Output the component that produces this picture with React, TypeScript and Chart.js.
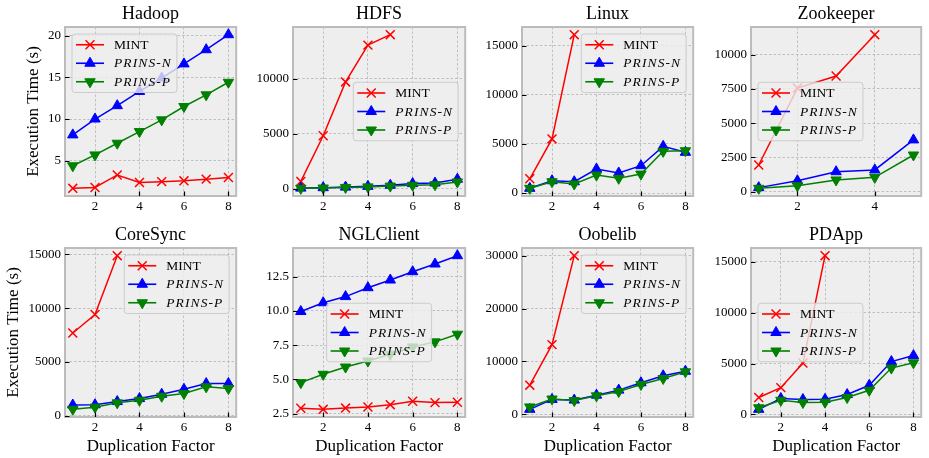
import React, { useEffect, useRef } from 'react';
import { Chart, registerables } from 'chart.js';

Chart.register(...registerables);

// ---------------- data ----------------
const DUP_FACTORS = [1, 2, 3, 4, 5, 6, 7, 8];
const SERIES_LABELS = ['MINT', 'PRINS-N', 'PRINS-P'];
const X_TICKS = [2, 4, 6, 8];
const X_TICKS_ZK = [2, 4];

const hadoopMint = [1.7, 1.8, 3.3, 2.4, 2.5, 2.6, 2.8, 3.0];
const hadoopPrinsN = [8.1, 10.0, 11.6, 13.3, 14.9, 16.6, 18.3, 20.1];
const hadoopPrinsP = [4.4, 5.7, 7.1, 8.5, 9.9, 11.5, 12.9, 14.4];
const hadoopYTicks = [5, 10, 15, 20];

const hdfsMint = [650, 4800, 9700, 13050, 14000];
const hdfsPrinsN = [40, 80, 130, 200, 300, 450, 500, 850];
const hdfsPrinsP = [20, 50, 100, 150, 220, 300, 350, 600];
const hdfsYTicks = [0, 5000, 10000];

const linuxMint = [1450, 5500, 16100];
const linuxPrinsN = [480, 1250, 1150, 2440, 2040, 2780, 4750, 4140];
const linuxPrinsP = [480, 1150, 920, 1830, 1500, 1930, 4240, 4300];
const linuxYTicks = [0, 5000, 10000, 15000];

const zookeeperMint = [1950, 7560, 8440, 11450];
const zookeeperPrinsN = [300, 800, 1460, 1590, 3780];
const zookeeperPrinsP = [250, 440, 860, 1050, 2680];
const zookeeperYTicks = [0, 2500, 5000, 7500, 10000];

const coreSyncMint = [7690, 9410, 14870];
const coreSyncPrinsN = [1000, 1020, 1320, 1600, 2000, 2460, 2990, 3000];
const coreSyncPrinsP = [600, 800, 1200, 1440, 1815, 2065, 2685, 2530];
const coreSyncYTicks = [0, 5000, 10000, 15000];

const nglClientMint = [2.89, 2.81, 2.9, 2.98, 3.15, 3.4, 3.3, 3.33];
const nglClientPrinsN = [9.96, 10.6, 11.05, 11.7, 12.26, 12.87, 13.43, 14.04];
const nglClientPrinsP = [4.76, 5.37, 5.9, 6.34, 6.83, 7.37, 7.74, 8.3];
const nglClientYTicks = [2.5, 5.0, 7.5, 10.0, 12.5];

const oobelibMint = [5520, 13180, 30000];
const oobelibPrinsN = [950, 2820, 2700, 3630, 4580, 5970, 7290, 8150];
const oobelibPrinsP = [1400, 2900, 2600, 3500, 4300, 5650, 6780, 8040];
const oobelibYTicks = [0, 10000, 20000, 30000];

const pdAppMint = [1660, 2630, 5040, 15590];
const pdAppPrinsN = [500, 1560, 1460, 1480, 1950, 2860, 5190, 5780];
const pdAppPrinsP = [650, 1390, 1170, 1200, 1660, 2370, 4550, 5070];
const pdAppYTicks = [0, 5000, 10000, 15000];

// ---------------- layout / style ----------------
const FONT = 'Liberation Serif';
const COLORS = ['#ff0000', '#0000ff', '#008000'];

type LegendLoc = 'upper left' | 'upper right' | 'center right' | 'center left' | 'center';

interface PanelDef {
  title: string;
  mint: number[];
  prinsN: number[];
  prinsP: number[];
  yTicks: number[];
  xTicks: number[];
  xCount: number;
  decimals: number;
  legend: LegendLoc;
}

const PANELS: PanelDef[] = [
  { title: 'Hadoop', mint: hadoopMint, prinsN: hadoopPrinsN, prinsP: hadoopPrinsP, yTicks: hadoopYTicks, xTicks: X_TICKS, xCount: 8, decimals: 0, legend: 'upper left' },
  { title: 'HDFS', mint: hdfsMint, prinsN: hdfsPrinsN, prinsP: hdfsPrinsP, yTicks: hdfsYTicks, xTicks: X_TICKS, xCount: 8, decimals: 0, legend: 'center right' },
  { title: 'Linux', mint: linuxMint, prinsN: linuxPrinsN, prinsP: linuxPrinsP, yTicks: linuxYTicks, xTicks: X_TICKS, xCount: 8, decimals: 0, legend: 'upper right' },
  { title: 'Zookeeper', mint: zookeeperMint, prinsN: zookeeperPrinsN, prinsP: zookeeperPrinsP, yTicks: zookeeperYTicks, xTicks: X_TICKS_ZK, xCount: 5, decimals: 0, legend: 'center left' },
  { title: 'CoreSync', mint: coreSyncMint, prinsN: coreSyncPrinsN, prinsP: coreSyncPrinsP, yTicks: coreSyncYTicks, xTicks: X_TICKS, xCount: 8, decimals: 0, legend: 'upper right' },
  { title: 'NGLClient', mint: nglClientMint, prinsN: nglClientPrinsN, prinsP: nglClientPrinsP, yTicks: nglClientYTicks, xTicks: X_TICKS, xCount: 8, decimals: 1, legend: 'center' },
  { title: 'Oobelib', mint: oobelibMint, prinsN: oobelibPrinsN, prinsP: oobelibPrinsP, yTicks: oobelibYTicks, xTicks: X_TICKS, xCount: 8, decimals: 0, legend: 'upper right' },
  { title: 'PDApp', mint: pdAppMint, prinsN: pdAppPrinsN, prinsP: pdAppPrinsP, yTicks: pdAppYTicks, xTicks: X_TICKS, xCount: 8, decimals: 0, legend: 'center left' },
];

const COLS = [
  { x: 0, w: 244, left: 65, right: 242 },
  { x: 244, w: 229, left: 293, right: 471 },
  { x: 473, w: 228, left: 522, right: 699 },
  { x: 701, w: 228, left: 751, right: 928 },
];
const ROWS = [
  { y: 0, h: 220, top: 27, bottom: 196, titlePadTop: 3 },
  { y: 220, h: 238, top: 248, bottom: 417, titlePadTop: 4.2 },
];
const YLABEL_PAD = [23.8, 3.8];

function drawMarker(ctx: CanvasRenderingContext2D, style: string, rot: number, x: number, y: number, r: number, color: string) {
  ctx.save();
  ctx.translate(x, y);
  ctx.rotate((rot * Math.PI) / 180);
  ctx.strokeStyle = color;
  ctx.fillStyle = color;
  ctx.beginPath();
  if (style === 'crossRot') {
    const d = r * Math.SQRT1_2;
    ctx.lineWidth = 1.5;
    ctx.moveTo(-d, -d);
    ctx.lineTo(d, d);
    ctx.moveTo(d, -d);
    ctx.lineTo(-d, d);
    ctx.stroke();
  } else {
    ctx.lineWidth = 1;
    ctx.moveTo(0, -r);
    ctx.lineTo(r * Math.sin((2 * Math.PI) / 3), -r * Math.cos((2 * Math.PI) / 3));
    ctx.lineTo(r * Math.sin((4 * Math.PI) / 3), -r * Math.cos((4 * Math.PI) / 3));
    ctx.closePath();
    ctx.fill();
    ctx.stroke();
  }
  ctx.restore();
}

const decorPlugin = {
  id: 'panelDecor',
  beforeDraw(chart: any) {
    const { ctx, chartArea: a } = chart;
    ctx.save();
    ctx.fillStyle = '#eeeeee';
    ctx.fillRect(a.left, a.top, a.right - a.left, a.bottom - a.top);
    ctx.restore();
  },
  afterDatasetsDraw(chart: any, _args: any, opts: any) {
    const { ctx, chartArea: a } = chart;
    ctx.save();
    // frame
    ctx.strokeStyle = '#bcbcbc';
    ctx.lineWidth = 2;
    ctx.strokeRect(a.left, a.top, a.right - a.left, a.bottom - a.top);
    // inward ticks
    ctx.strokeStyle = '#000';
    ctx.lineWidth = 1.2;
    ctx.beginPath();
    for (const t of chart.scales.x.ticks) {
      const px = Math.round(chart.scales.x.getPixelForValue(t.value)) + 0.5;
      ctx.moveTo(px, a.bottom);
      ctx.lineTo(px, a.bottom - 4.5);
    }
    for (const t of chart.scales.y.ticks) {
      const py = Math.round(chart.scales.y.getPixelForValue(t.value)) + 0.5;
      ctx.moveTo(a.left, py);
      ctx.lineTo(a.left + 4.5, py);
    }
    ctx.stroke();

    // legend
    const italic: boolean[] = opts.italic || [];
    const items = chart.data.datasets.map((ds: any, i: number) => ({
      label: ds.label,
      color: ds.borderColor,
      style: ds.pointStyle,
      rot: ds.pointRotation || 0,
      radius: ds.pointRadius,
      italic: !!italic[i],
    }));
    const setFont = (it: boolean) => {
      ctx.font = (it ? 'italic 13.5px' : '13.5px') + ' "' + FONT + '"';
      (ctx as any).letterSpacing = it ? '1.1px' : '0px';
    };
    let maxW = 0;
    for (const it of items) {
      setFont(it.italic);
      maxW = Math.max(maxW, ctx.measureText(it.label).width);
    }
    const padL = 4, handle = 28, gap = 10, padR = 5, rowH = 18.5, padV = 1.5;
    const w = padL + handle + gap + maxW + padR;
    const h = padV * 2 + rowH * items.length;
    const pad = 7;
    let bx = a.left + pad;
    let by = a.top + pad;
    const loc: string = opts.loc;
    if (loc.includes('right')) bx = a.right - pad - w;
    if (loc === 'center') bx = (a.left + a.right) / 2 - w / 2;
    if (loc.startsWith('center')) by = (a.top + a.bottom) / 2 - h / 2;
    ctx.beginPath();
    (ctx as any).roundRect(bx, by, w, h, 3);
    ctx.fillStyle = 'rgba(238,238,238,0.8)';
    ctx.fill();
    ctx.strokeStyle = '#cccccc';
    ctx.lineWidth = 1;
    ctx.stroke();
    items.forEach((it: any, i: number) => {
      const cy = by + padV + rowH * (i + 0.5);
      const hx = bx + padL;
      ctx.strokeStyle = it.color;
      ctx.lineWidth = 1.6;
      ctx.beginPath();
      ctx.moveTo(hx, cy);
      ctx.lineTo(hx + handle, cy);
      ctx.stroke();
      drawMarker(ctx, it.style, it.rot, hx + handle / 2, cy, it.radius, it.color);
      setFont(it.italic);
      ctx.fillStyle = '#000';
      ctx.textBaseline = 'middle';
      ctx.textAlign = 'left';
      ctx.fillText(it.label, hx + handle + gap, cy + 0.5);
    });
    (ctx as any).letterSpacing = '0px';
    ctx.restore();
  },
};

function buildConfig(p: PanelDef, col: number, row: number): any {
  const c = COLS[col];
  const r = ROWS[row];
  const n = p.xCount;
  const xMin = 1 - 0.05 * (n - 1);
  const xMax = n + 0.05 * (n - 1);
  const all = [...p.mint, ...p.prinsN, ...p.prinsP];
  const lo = Math.min(...all);
  const hi = Math.max(...all);
  const m = 0.05 * (hi - lo);
  const toPts = (arr: number[]) => arr.map((v, i) => ({ x: DUP_FACTORS[i], y: v }));
  const seriesData = [p.mint, p.prinsN, p.prinsP];
  const styles = [
    { pointStyle: 'crossRot', pointRotation: 0, pointRadius: 6.3, pointBorderWidth: 1.5, order: 3 },
    { pointStyle: 'triangle', pointRotation: 0, pointRadius: 6, pointBorderWidth: 1, order: 2 },
    { pointStyle: 'triangle', pointRotation: 180, pointRadius: 6, pointBorderWidth: 1, order: 1 },
  ];
  const datasets = SERIES_LABELS.map((label, i) => ({
    label,
    data: toPts(seriesData[i]),
    borderColor: COLORS[i],
    backgroundColor: COLORS[i],
    pointBackgroundColor: COLORS[i],
    pointBorderColor: COLORS[i],
    borderWidth: 1.5,
    tension: 0,
    pointHoverRadius: styles[i].pointRadius,
    ...styles[i],
  }));

  const yAxisW = c.left - c.x;
  const padRight = c.x + c.w - c.right;
  const xAxisH = r.y + r.h - r.bottom;
  const titlePadBottom = r.top - r.y - r.titlePadTop - 18 * 1.2;
  const tickFont = { family: FONT, size: 13 };
  const gridCommon = { color: '#b2b2b2', lineWidth: 0.8, drawTicks: false };

  return {
    type: 'line',
    data: { datasets },
    plugins: [decorPlugin],
    options: {
      responsive: false,
      animation: false,
      events: [],
      layout: { padding: { left: 0, right: padRight, top: 0, bottom: 0 } },
      plugins: {
        legend: { display: false },
        tooltip: { enabled: false },
        title: {
          display: true,
          text: p.title,
          fullSize: false,
          color: '#000',
          font: { family: FONT, size: 18, weight: 'normal', lineHeight: 1.2 },
          padding: { top: r.titlePadTop, bottom: titlePadBottom },
        },
        panelDecor: { loc: p.legend, italic: [false, true, true] },
      },
      scales: {
        x: {
          type: 'linear',
          min: xMin,
          max: xMax,
          afterBuildTicks: (s: any) => {
            s.ticks = p.xTicks.map((v) => ({ value: v }));
          },
          afterFit: (s: any) => {
            s.height = xAxisH;
          },
          grid: gridCommon,
          border: { display: false, dash: [2.5, 2] },
          ticks: {
            font: tickFont,
            color: '#000',
            padding: 3,
            maxRotation: 0,
            autoSkip: false,
            callback: (v: any) => String(v),
          },
          title: {
            display: row === 1,
            text: 'Duplication Factor',
            color: '#000',
            font: { family: FONT, size: 17, lineHeight: 1.2 },
            padding: { top: 0, bottom: 1.5 },
          },
        },
        y: {
          type: 'linear',
          min: lo - m,
          max: hi + m,
          afterBuildTicks: (s: any) => {
            s.ticks = p.yTicks.map((v) => ({ value: v }));
          },
          afterFit: (s: any) => {
            s.width = yAxisW;
          },
          grid: gridCommon,
          border: { display: false, dash: [2.5, 2] },
          ticks: {
            font: tickFont,
            color: '#000',
            padding: 4,
            autoSkip: false,
            callback: (v: any) => Number(v).toFixed(p.decimals),
          },
          title: {
            display: col === 0,
            text: 'Execution Time (s)',
            color: '#000',
            font: { family: FONT, size: 17, lineHeight: 1.2 },
            padding: { top: YLABEL_PAD[row], bottom: 0 },
          },
        },
      },
    },
  };
}

function PanelChart({ panel, col, row }: { panel: PanelDef; col: number; row: number }) {
  const ref = useRef<HTMLCanvasElement>(null);
  useEffect(() => {
    const chart = new Chart(ref.current as HTMLCanvasElement, buildConfig(panel, col, row));
    return () => chart.destroy();
  }, [panel, col, row]);
  const c = COLS[col];
  const r = ROWS[row];
  return (
    <canvas
      ref={ref}
      width={c.w}
      height={r.h}
      style={{ position: 'absolute', left: c.x, top: r.y, width: c.w, height: r.h }}
    />
  );
}

export default function App() {
  return (
    <div style={{ position: 'absolute', left: 0, top: 0, width: 929, height: 458, background: '#fff', overflow: 'hidden' }}>
      {PANELS.map((p, i) => (
        <PanelChart key={p.title} panel={p} col={i % 4} row={Math.floor(i / 4)} />
      ))}
    </div>
  );
}
